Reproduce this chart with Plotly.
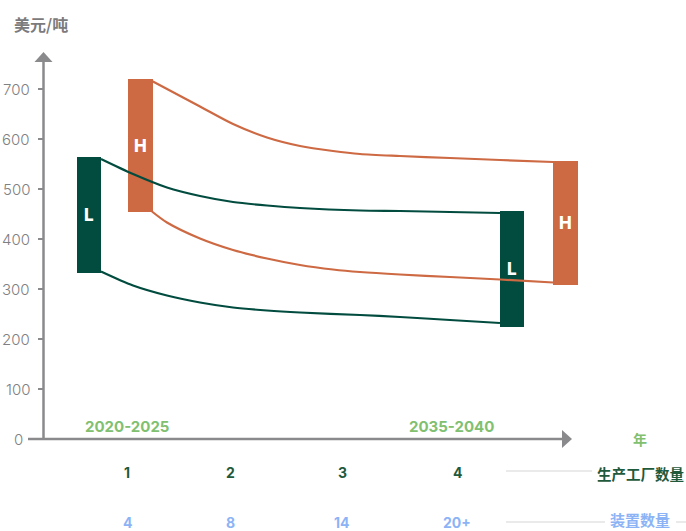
import plotly.graph_objects as go

# ---------------- data ----------------
# x positions are in timeline units (0..100 across the chart), y in USD/ton
bar_labels = ["L", "H", "L", "H"]
bar_x = [9.27, 17.1, 73.56, 81.69]
bar_low = [332, 454, 224, 308]
bar_high = [564, 720, 456, 556]
bar_kind = ["low", "high", "low", "high"]

low_upper_x = [11.09, 15.96, 21.12, 26.14, 31.16, 36.32, 41.34, 50.46, 56.53, 64.13, 71.73]
low_upper_y = [560, 530, 503, 486, 474, 467, 462, 457, 456, 454, 452]
low_lower_x = [11.09, 15.96, 21.12, 26.14, 31.16, 36.32, 41.34, 50.46, 56.53, 64.13, 71.73]
low_lower_y = [335, 307, 287, 273, 263, 257, 253, 248, 244, 238, 232]

high_upper_x = [18.84, 26.14, 31.16, 36.32, 41.34, 46.35, 50.46, 56.53, 64.13, 71.73, 79.79]
high_upper_y = [716, 665, 630, 603, 586, 576, 570, 566, 562, 558, 554]
high_lower_x = [18.84, 21.12, 26.14, 31.16, 36.32, 41.34, 46.35, 50.46, 56.53, 64.13, 71.73, 79.79]
high_lower_y = [455, 433, 401, 378, 361, 348, 339, 334, 329, 324, 319, 313]

y_ticks = [0, 100, 200, 300, 400, 500, 600, 700]
period_labels = ["2020-2025", "2035-2040"]
period_x = [15.05, 64.3]
stage_x = [15.05, 30.85, 47.72, 65.2]
plant_counts = ["1", "2", "3", "4"]
device_counts = ["4", "8", "14", "20+"]

# ---------------- style ----------------
ORANGE = "#cd6943"
GREEN = "#024c3f"
AXIS = "#8a8a8d"
LIGHT_GREEN = "#80c06f"
DARK_GREEN = "#1f5a3c"
LIGHT_BLUE = "#8cb3f6"
SEP = "#e3e3e3"
TICK_GREY = "#808082"
FONT = "Inter, Noto Sans CJK SC, sans-serif"
CJK = "Noto Sans CJK SC, sans-serif"

W, H = 686, 531
PX = 6.58           # pixels per x unit
X0_PIX = 28         # pixel where x = 0
X_MIN = -X0_PIX / PX
X_MAX = (W - X0_PIX) / PX
Y_MIN, Y_MAX = -184, 878


def u(px):
    """convert a horizontal pixel position to x units"""
    return (px - X0_PIX) / PX


fig = go.Figure()


def add_bars(kind, color):
    idx = [i for i, k in enumerate(bar_kind) if k == kind]
    fig.add_trace(go.Bar(
        x=[bar_x[i] for i in idx],
        y=[bar_high[i] - bar_low[i] for i in idx],
        base=[bar_low[i] for i in idx],
        width=3.7, marker=dict(color=color, line=dict(width=0)),
        hoverinfo="skip", showlegend=False))


def add_line(xs, ys, color):
    fig.add_trace(go.Scatter(
        x=xs, y=ys, mode="lines",
        line=dict(color=color, width=2.2, shape="spline", smoothing=0.8),
        hoverinfo="skip", showlegend=False))


add_bars("high", ORANGE)
add_line(high_upper_x, high_upper_y, ORANGE)
add_line(high_lower_x, high_lower_y, ORANGE)
add_bars("low", GREEN)
add_line(low_upper_x, low_upper_y, GREEN)
add_line(low_lower_x, low_lower_y, GREEN)

ann = []
for lab, x, lo, hi in zip(bar_labels, bar_x, bar_low, bar_high):
    ann.append(dict(x=x, y=(lo + hi) / 2, text=lab, showarrow=False,
                    font=dict(family=FONT, size=17, color="white", weight=800)))

for lab, x in zip(period_labels, period_x):
    ann.append(dict(x=x, y=26, text=lab, showarrow=False,
                    font=dict(family=FONT, size=15, color=LIGHT_GREEN, weight=700)))

for lab, x in zip(plant_counts, stage_x):
    ann.append(dict(x=x, y=-66, text=lab, showarrow=False,
                    font=dict(family=FONT, size=14, color=DARK_GREEN, weight=700)))
for lab, x in zip(device_counts, stage_x):
    ann.append(dict(x=x, y=-166, text=lab, showarrow=False,
                    font=dict(family=FONT, size=14, color=LIGHT_BLUE, weight=700)))

# y tick labels (the zero label sits left of the x-axis start)
for v in y_ticks:
    ann.append(dict(x=u(24.5 if v == 0 else 31.5), y=v, text=str(v), showarrow=False,
                    xanchor="right",
                    font=dict(family="Inter, sans-serif", size=15, color=TICK_GREY, weight=300)))

ann.append(dict(x=u(41), y=830, text="美元/吨", showarrow=False,
                font=dict(family=CJK, size=16, color="#7b7b7d", weight=700)))
ann.append(dict(x=u(640), y=0, text="年", showarrow=False,
                font=dict(family=CJK, size=14, color=LIGHT_GREEN, weight=700)))
ann.append(dict(x=u(640.5), y=-68, text="生产工厂数量", showarrow=False,
                font=dict(family=CJK, size=14.5, color=DARK_GREEN, weight=700)))
ann.append(dict(x=u(640), y=-160, text="装置数量", showarrow=False,
                font=dict(family=CJK, size=15, color=LIGHT_BLUE, weight=700)))

yaxis_x = u(43.5)
shapes = [
    # y axis line + arrow
    dict(type="line", x0=yaxis_x, x1=yaxis_x, y0=0, y1=760, line=dict(color=AXIS, width=2.5)),
    dict(type="path", path=f"M {yaxis_x - 9/PX},754 L {yaxis_x + 9/PX},754 L {yaxis_x},774 Z",
         fillcolor=AXIS, line=dict(width=0)),
    # x axis line + arrow
    dict(type="line", x0=0, x1=u(565), y0=0, y1=0, line=dict(color=AXIS, width=2.5)),
    dict(type="path", path=f"M {u(562)},-18 L {u(562)},18 L {u(572)},0 Z",
         fillcolor=AXIS, line=dict(width=0)),
    # separators
    dict(type="line", x0=u(506), x1=u(592), y0=-64, y1=-64, line=dict(color=SEP, width=1.5)),
    dict(type="line", x0=u(506), x1=u(605), y0=-166, y1=-166, line=dict(color=SEP, width=1.5)),
    dict(type="line", x0=u(676), x1=u(686), y0=-166, y1=-166, line=dict(color=SEP, width=1.5)),
]

fig.update_layout(
    width=W, height=H,
    margin=dict(l=0, r=0, t=0, b=0, pad=0),
    paper_bgcolor="white", plot_bgcolor="white",
    barmode="overlay", bargap=0,
    xaxis=dict(range=[X_MIN, X_MAX], visible=False, fixedrange=True),
    yaxis=dict(range=[Y_MIN, Y_MAX], anchor="free", position=43.5 / W,
               tickvals=y_ticks[1:], showticklabels=False,
               ticks="outside", ticklen=6, tickwidth=1.5, tickcolor=AXIS,
               showgrid=False, zeroline=False, showline=False,
               fixedrange=True),
    annotations=ann, shapes=shapes,
)

fig.write_html("out.html", config={"displayModeBar": False},
               post_script="document.body.style.margin='0';document.body.style.overflow='hidden';")
